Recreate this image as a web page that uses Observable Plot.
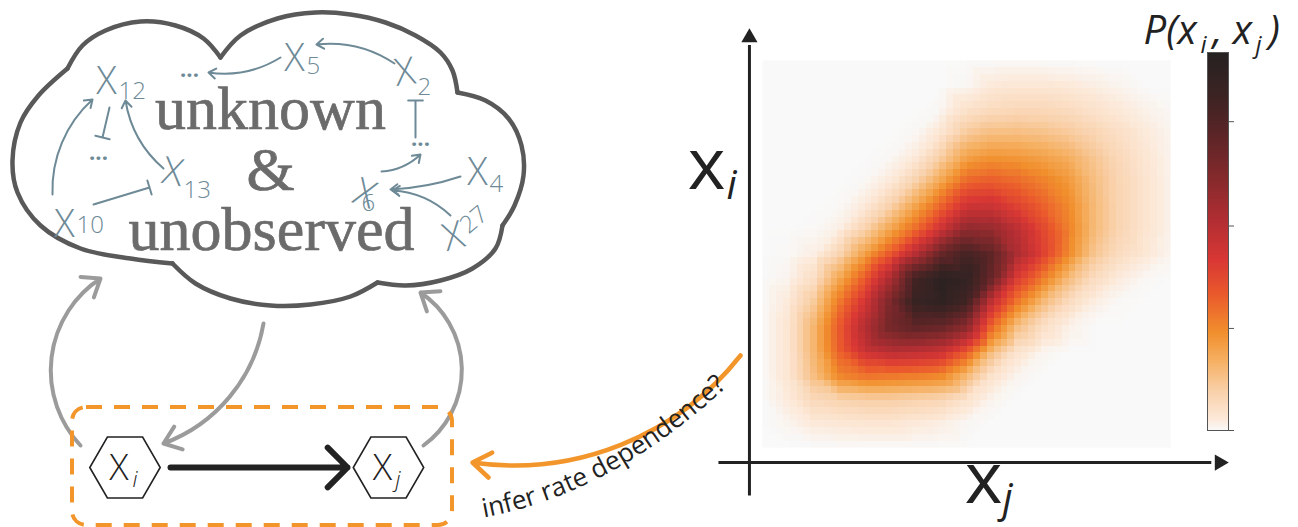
<!DOCTYPE html>
<html><head><meta charset="utf-8">
<script src="https://cdn.jsdelivr.net/npm/d3@7"></script>
<script src="https://cdn.jsdelivr.net/npm/@observablehq/plot@0.6"></script>
<style>
html,body{margin:0;padding:0;background:#fff;}
#wrap{position:relative;width:1298px;height:527px;overflow:hidden;}
#wrap > svg{position:absolute;overflow:visible;}
</style></head><body><div id="wrap"></div>
<script>
const W = 1298, H = 527;
const BLUE = "#6e8a97", GRAY = "#9b9b9b", ORANGE = "#f2962b", INK = "#222";

// ---------- heat map: estimated density (fraction of peak), rows from top (high x_i) to bottom, columns left (low x_j) to right
const gridRows = [
 [0,0,0,0,0,0,0,0,0,0,0,0,0,0,0,0,0],
 [0,0,0,0,0,0,0,0,0.005,0.03,0.035,0.035,0.03,0.02,0.01,0,0],
 [0,0,0,0,0,0,0,0.005,0.05,0.07,0.08,0.08,0.07,0.05,0.03,0.015,0.005],
 [0,0,0,0,0,0,0.005,0.04,0.12,0.15,0.15,0.14,0.12,0.09,0.06,0.03,0.01],
 [0,0,0,0,0,0.005,0.03,0.11,0.22,0.25,0.24,0.22,0.19,0.13,0.08,0.04,0.012],
 [0,0,0,0,0.005,0.03,0.1,0.21,0.34,0.36,0.33,0.29,0.24,0.15,0.09,0.045,0.012],
 [0,0,0,0.003,0.03,0.1,0.21,0.34,0.48,0.49,0.42,0.35,0.27,0.16,0.09,0.045,0.012],
 [0,0,0.003,0.02,0.1,0.21,0.33,0.49,0.65,0.63,0.53,0.41,0.29,0.16,0.09,0.045,0.012],
 [0,0.003,0.02,0.09,0.22,0.37,0.55,0.75,0.86,0.77,0.57,0.43,0.27,0.13,0.07,0.035,0.01],
 [0,0.01,0.06,0.2,0.36,0.57,0.86,0.98,0.94,0.74,0.44,0.3,0.16,0.07,0.025,0.005,0],
 [0,0.03,0.12,0.3,0.47,0.7,0.91,0.95,0.87,0.5,0.3,0.16,0.07,0.02,0.003,0,0],
 [0,0.04,0.17,0.36,0.55,0.72,0.78,0.76,0.66,0.33,0.15,0.06,0.015,0,0,0,0],
 [0,0.04,0.17,0.35,0.5,0.55,0.54,0.51,0.38,0.16,0.05,0.01,0,0,0,0,0],
 [0,0.04,0.15,0.28,0.32,0.31,0.3,0.28,0.17,0.05,0.01,0,0,0,0,0,0],
 [0,0.03,0.08,0.1,0.11,0.11,0.1,0.09,0.05,0.01,0,0,0,0,0,0,0],
 [0,0.01,0.03,0.035,0.04,0.04,0.03,0.02,0.005,0,0,0,0,0,0,0,0],
 [0,0,0,0,0,0,0,0,0,0,0,0,0,0,0,0,0]
];
// colour ramp of the colour bar (fraction of its height -> colour)
const colorStops = [0, 0.03, 0.1, 0.19, 0.26, 0.36, 0.45, 0.55, 0.65, 0.77, 0.88, 1];
const colorRamp = ["#f9f9f9","#fce9d9","#f9d2ad","#f5ae5e","#f18f2d","#ea5a2c","#d93834","#b42e33","#8c2a2d","#602527","#3e2323","#262222"];
const colorbarTicks = [0, 0.27, 0.541, 0.817];

// heat-map axes (arrows), in heat-map data units
const axisLines = [
 {x1:-0.032, y1:-0.124, x2:-0.032, y2:1.04},
 {x1:-0.108, y1:-0.039, x2:1.10, y2:-0.039}
];
const axisHeads = [
 {x:-0.032, y:1.059, rot:0},
 {x:1.12, y:-0.039, rot:90}
];

// ---------- left diagram geometry (page pixels)
const cloudLobes = {
 topLeft: [[67,68],[82,45],[105,30],[140,21],[175,25],[203,38],[220,57]],
 top: [[220,57],[240,35],[277,18],[315,12],[350,14],[385,22],[415,35],[440,52],[452,70],[457,92]],
 right: [[457,92],[485,100],[508,118],[521,145],[523,175],[514,205],[502,225]],
 bottomRight: [[502,225],[495,248],[472,268],[440,280],[405,285],[377,282]],
 bottom: [[377,282],[350,296],[310,304],[270,305],[230,298],[195,283],[172,263]],
 left: [[172,263],[130,258],[80,248],[40,225],[17,192],[12,160],[20,122],[38,95],[67,68]]
};
const nodeArrows = [
 {x1:280,y1:57,x2:208,y2:72,bend:20},
 {x1:394,y1:63,x2:316,y2:44,bend:-20},
 {x1:52,y1:194,x2:92,y2:99,bend:25},
 {x1:163,y1:168,x2:125,y2:100,bend:20},
 {x1:381,y1:171,x2:420,y2:154,bend:-20},
 {x1:460,y1:176,x2:390,y2:189,bend:8},
 {x1:450,y1:215,x2:392,y2:190,bend:-20}
];
const inhibitLinks = [
 {x1:109,y1:107,x2:102,y2:137},
 {x1:415,y1:137,x2:415,y2:100},
 {x1:93,y1:204,x2:149,y2:187}
];
const feedbackArrows = [
 {x1:80,y1:445,x2:100,y2:278,bend:50},
 {x1:263,y1:323,x2:163,y2:443,bend:30},
 {x1:423,y1:445,x2:420,y2:292,bend:-55}
];
const causalArrow = [{x1:170,y1:467,x2:347,y2:467}];
const hexNodes = [{x:124.5,y:467},{x:388,y:467}];
const observedBox = [{x1:72,x2:452,y1:407,y2:525}];
const inferArrow = {x1:740,y1:355,x2:472,y2:462,bend:30};
// curved note under the orange arrow: baseline as a quadratic Bézier (start, control, end)
const noteText = "infer rate dependence?";
const notePath = [[483,517],[621,492],[745,368]];
const noteFontSize = 26;

const textStyles = {
 serif:  {fontFamily:"Liberation Serif", fontSize:62, fill:"#6b6b6b", stroke:"#6b6b6b", strokeWidth:0.7, lineAnchor:"bottom"},
 node:   {fontFamily:"Open Sans", fontWeight:300, fontSize:38, fill:BLUE, lineAnchor:"bottom"},
 nodeSub:{fontFamily:"Open Sans", fontWeight:300, fontSize:24, fill:BLUE, lineAnchor:"bottom"},
 dots:   {fontFamily:"Open Sans", fontWeight:700, fontSize:22, fill:BLUE, lineAnchor:"bottom"},
 hex:    {fontFamily:"Open Sans", fontWeight:300, fontSize:36, fill:INK, lineAnchor:"bottom"},
 hexSub: {fontFamily:"Open Sans", fontWeight:300, fontStyle:"italic", fontSize:22, fill:INK, lineAnchor:"bottom"},
 axis:   {fontFamily:"Open Sans", fontSize:72, fill:INK, lineAnchor:"bottom"},
 axisSub:{fontFamily:"Open Sans", fontStyle:"italic", fontSize:40, fill:INK, lineAnchor:"bottom"},
 pLab:   {fontFamily:"Open Sans", fontStyle:"italic", fontSize:40, fill:INK, lineAnchor:"bottom"},
 pSub:   {fontFamily:"Open Sans", fontStyle:"italic", fontSize:24, fill:INK, lineAnchor:"bottom"}
};
const textLabels = [
 {t:"unknown", x:270, y:128, s:"serif", a:"middle"},
 {t:"&", x:270, y:189, s:"serif", a:"middle"},
 {t:"unobserved", x:271, y:249, s:"serif", a:"middle"},
 {t:"X", x:106, y:93, s:"node", a:"middle"},
 {t:"12", x:118, y:98, s:"nodeSub", a:"start"},
 {t:"X", x:294, y:70, s:"node", a:"middle"},
 {t:"5", x:306, y:73, s:"nodeSub", a:"start"},
 {t:"X", x:406, y:84, s:"node", a:"middle", r:-8},
 {t:"2", x:417, y:94, s:"nodeSub", a:"start"},
 {t:"X", x:360, y:205, s:"node", a:"middle", r:20},
 {t:"6", x:361, y:210, s:"nodeSub", a:"start"},
 {t:"X", x:477, y:184, s:"node", a:"middle"},
 {t:"4", x:489, y:191, s:"nodeSub", a:"start"},
 {t:"X", x:456, y:248, s:"node", a:"middle", r:-15},
 {t:"27", x:468, y:234, s:"nodeSub", a:"start", r:-40},
 {t:"X", x:170, y:184, s:"node", a:"middle", r:10},
 {t:"13", x:183, y:197, s:"nodeSub", a:"start"},
 {t:"X", x:64, y:236, s:"node", a:"middle"},
 {t:"10", x:76, y:232, s:"nodeSub", a:"start"},
 {t:"...", x:189, y:76, s:"dots", a:"middle"},
 {t:"...", x:420, y:145, s:"dots", a:"middle"},
 {t:"...", x:98, y:159, s:"dots", a:"middle"},
 {t:"X", x:118.5, y:479, s:"hex", a:"middle"},
 {t:"i", x:132, y:486, s:"hexSub", a:"start"},
 {t:"X", x:382, y:479, s:"hex", a:"middle"},
 {t:"j", x:395, y:486, s:"hexSub", a:"start"},
 {t:"x", x:706, y:188, s:"axis", a:"middle"},
 {t:"i", x:726, y:198, s:"axisSub", a:"start"},
 {t:"x", x:983, y:502, s:"axis", a:"middle"},
 {t:"j", x:1002, y:511, s:"axisSub", a:"start"},
 {t:"P(x", x:1143, y:43, s:"pLab", a:"start"},
 {t:"i", x:1200, y:52, s:"pSub", a:"start"},
 {t:", x", x:1212, y:43, s:"pLab", a:"start"},
 {t:"j", x:1255, y:52, s:"pSub", a:"start"},
 {t:")", x:1268, y:43, s:"pLab", a:"start"}
];

// ---------- shared colour scale
const ramp = d3.scaleLinear().domain(colorStops).range(colorRamp).interpolate(d3.interpolateRgb).clamp(true);
const colorScale = {type:"linear", domain:[0,1], interpolate: t => ramp(t)};

const heatPoints = gridRows.flatMap((row, r) => row.map((value, c) => ({
  u: c / (row.length - 1), v: 1 - r / (gridRows.length - 1), value
})));

// lay the note's characters along its curved baseline
const noteChars = (() => {
  const ctx = document.createElement("canvas").getContext("2d");
  ctx.font = `${noteFontSize}px "Open Sans"`;
  const [a, b, c] = notePath;
  const bez = t => { const u = 1 - t; return [u*u*a[0] + 2*u*t*b[0] + t*t*c[0], u*u*a[1] + 2*u*t*b[1] + t*t*c[1]]; };
  const N = 600, table = []; let L = 0, prev = bez(0);
  for (let i = 0; i <= N; ++i) { const p = bez(i / N); if (i) L += Math.hypot(p[0] - prev[0], p[1] - prev[1]); table.push({L, p}); prev = p; }
  const at = s => {
    let i = table.findIndex(d => d.L >= s); if (i < 1) i = 1;
    const p0 = table[i - 1].p, p1 = table[i].p;
    return {x: (p0[0] + p1[0]) / 2, y: (p0[1] + p1[1]) / 2, r: Math.atan2(p1[1] - p0[1], p1[0] - p0[0]) * 180 / Math.PI};
  };
  let s = 0; const out = [];
  for (const ch of noteText) { const w = ctx.measureText(ch).width; out.push({t: ch, ...at(s + w / 2)}); s += w; }
  return out;
})();

const wrap = document.getElementById("wrap");

// heat map panel
const heat = Plot.plot({
  width: 618, height: 527,
  marginLeft: 82, marginRight: 128, marginTop: 60, marginBottom: 80,
  x: {domain:[0,1], axis:null},
  y: {domain:[0,1], axis:null},
  color: colorScale,
  style: {background:"transparent", overflow:"visible"},
  marks: [
    Plot.raster(heatPoints, {x:"u", y:"v", fill:"value", x1:0, x2:1, y1:0, y2:1,
      interpolate:"barycentric", pixelSize:6.8, imageRendering:"pixelated"}),
    Plot.link(axisLines, {x1:"x1", y1:"y1", x2:"x2", y2:"y2", stroke:INK, strokeWidth:3}),
    Plot.dot(axisHeads, {x:"x", y:"y", rotate:"rot", symbol:"triangle", r:6, fill:INK, stroke:null})
  ]
});
heat.style.left = "680px"; heat.style.top = "0px";
wrap.appendChild(heat);

// colour bar
const bar = Plot.plot({
  width: 45, height: 400,
  marginLeft: 7, marginRight: 17, marginTop: 12, marginBottom: 10,
  x: {domain:[0,1], axis:null},
  y: {domain:[0,1], axis:null},
  color: colorScale,
  style: {background:"transparent", overflow:"visible"},
  marks: [
    Plot.raster({fill:(x, y) => y, x1:0, x2:1, y1:0, y2:1, width:1, height:256}),
    Plot.frame({stroke:"#555", strokeWidth:1}),
    Plot.axisY(colorbarTicks, {anchor:"right", tickSize:5, tickFormat:() => "", color:"#555"})
  ]
});
bar.style.left = "1200px"; bar.style.top = "40px";
wrap.appendChild(bar);

// diagram overlay
const lobeRows = Object.entries(cloudLobes).flatMap(([lobe, pts]) => pts.map(([x, y]) => ({lobe, x, y})));
const textMarks = d3.groups(textLabels, d => d.s, d => d.a).flatMap(([s, byA]) =>
  byA.map(([a, rows]) => Plot.text(rows, {x:"x", y:"y", text:"t", rotate: d => d.r ?? 0, textAnchor:a, ...textStyles[s]})));

const diagram = Plot.plot({
  width: W, height: H, margin: 0,
  x: {domain:[0,W], range:[0,W], axis:null},
  y: {domain:[0,H], range:[0,H], axis:null},
  style: {background:"transparent", overflow:"visible"},
  marks: [
    Plot.line(lobeRows, {x:"x", y:"y", z:"lobe", curve:"catmull-rom", stroke:"#595959", strokeWidth:4.5}),
    ...nodeArrows.map(d => Plot.arrow([d], {x1:"x1", y1:"y1", x2:"x2", y2:"y2", bend:d.bend, stroke:BLUE, strokeWidth:2, headLength:6.5, headAngle:70})),
    Plot.arrow(inhibitLinks, {x1:"x1", y1:"y1", x2:"x2", y2:"y2", stroke:BLUE, strokeWidth:2, headLength:5.5, headAngle:180}),
    ...feedbackArrows.map(d => Plot.arrow([d], {x1:"x1", y1:"y1", x2:"x2", y2:"y2", bend:d.bend, stroke:GRAY, strokeWidth:4, headLength:7.5, headAngle:75})),
    Plot.rect(observedBox, {x1:"x1", x2:"x2", y1:"y1", y2:"y2", rx:14, fill:"none", stroke:ORANGE, strokeWidth:4, strokeDasharray:"16,12"}),
    Plot.dot(hexNodes, {x:"x", y:"y", symbol:"hexagon", r:30.5, rotate:90, fill:"white", stroke:INK, strokeWidth:1.6}),
    Plot.arrow(causalArrow, {x1:"x1", y1:"y1", x2:"x2", y2:"y2", stroke:INK, strokeWidth:6, headLength:7, headAngle:90}),
    Plot.arrow([inferArrow], {x1:"x1", y1:"y1", x2:"x2", y2:"y2", bend:inferArrow.bend, stroke:ORANGE, strokeWidth:4.5, headLength:7.3, headAngle:70}),
    Plot.text(noteChars, {x:"x", y:"y", text:"t", rotate:"r", textAnchor:"middle", lineAnchor:"bottom", fontFamily:"Open Sans", fontSize:noteFontSize, fill:INK}),
    ...textMarks
  ]
});
diagram.style.left = "0px"; diagram.style.top = "0px";
wrap.appendChild(diagram);
</script></body></html>
